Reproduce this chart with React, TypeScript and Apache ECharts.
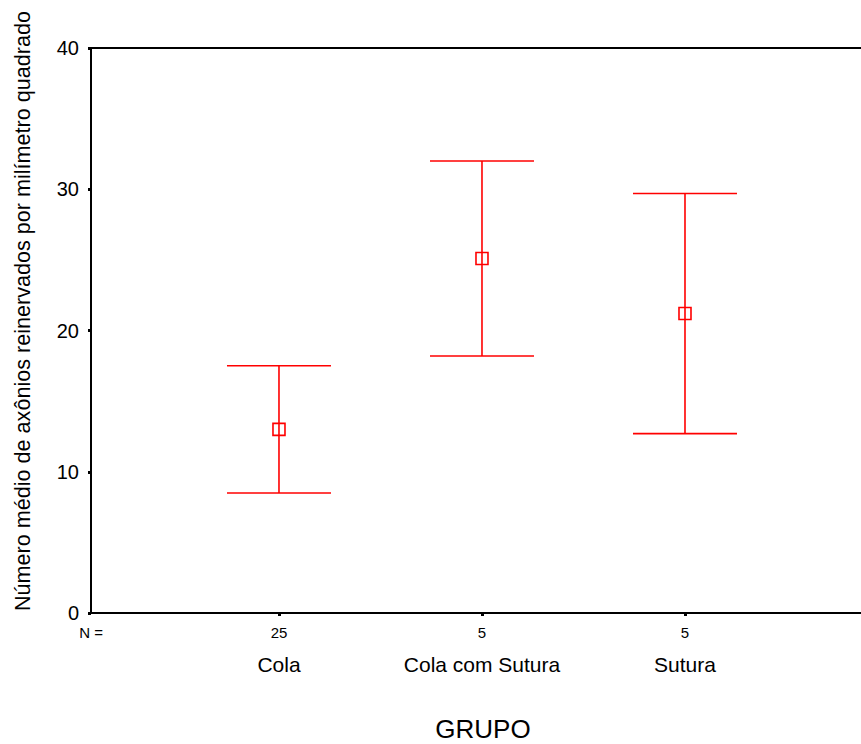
import React, { useEffect, useRef } from "react";
import * as echarts from "echarts";

const categories = ["Cola", "Cola com Sutura", "Sutura"];
const counts = ["25", "5", "5"];
const means = [13.0, 25.1, 21.2];
const lows = [8.5, 18.2, 12.7];
const highs = [17.5, 32.0, 29.7];
const yTicks = [0, 10, 20, 30, 40];
const yTitle = "Número médio de axônios reinervados por milímetro quadrado";
const xTitle = "GRUPO";

const FONT = "'Liberation Sans', Arial, sans-serif";

export default function App() {
  const ref = useRef<HTMLDivElement>(null);
  useEffect(() => {
    if (!ref.current) return;
    const chart = echarts.init(ref.current, null, { renderer: "svg" });
    const positions = categories.map((_, i) => i + 1);
    const data = positions.map((p, i) => [p, lows[i], highs[i], means[i]]);
    const xMin = 0.074;
    const xMax = 3.867;
    chart.setOption({
      animation: false,
      backgroundColor: "#ffffff",
      textStyle: { fontFamily: FONT },
      grid: { left: 91, right: 0, top: 48, bottom: 131, outerBoundsMode: "none", containLabel: false },
      graphic: [
        {
          type: "text",
          x: 22,
          y: 311,
          rotation: Math.PI / 2,
          style: {
            text: yTitle,
            fontSize: 21.6,
            fontFamily: FONT,
            fill: "#000",
            textAlign: "center",
            textVerticalAlign: "middle",
          },
        },
        {
          type: "text",
          x: 483,
          y: 729,
          style: {
            text: xTitle,
            fontSize: 26,
            fontFamily: FONT,
            fill: "#000",
            textAlign: "center",
            textVerticalAlign: "middle",
          },
        },
      ],
      xAxis: [
        {
          type: "value",
          position: "bottom",
          min: xMin,
          max: xMax,
          splitLine: { show: false },
          axisLine: { show: true, onZero: false, lineStyle: { color: "#000", width: 2 } },
          axisTick: {
            show: true,
            customValues: positions,
            length: 3,
            lineStyle: { color: "#000", width: 3 },
          },
          axisLabel: {
            customValues: [xMin, ...positions],
            showMinLabel: true,
            showMaxLabel: true,
            margin: 12,
            fontSize: 15,
            color: "#000",
            fontFamily: FONT,
            formatter: (v: number) => {
              if (v < 0.5) return "N =";
              const idx = Math.round(v) - 1;
              return counts[idx] ?? "";
            },
          },
        },
        {
          type: "value",
          position: "bottom",
          min: xMin,
          max: xMax,
          splitLine: { show: false },
          axisLine: { show: false, onZero: false },
          axisTick: { show: false },
          axisLabel: {
            customValues: positions,
            margin: 41,
            fontSize: 21,
            color: "#000",
            fontFamily: FONT,
            formatter: (v: number) => categories[Math.round(v) - 1] ?? "",
          },
        },
        {
          type: "value",
          position: "top",
          min: xMin,
          max: xMax,
          splitLine: { show: false },
          axisLine: { show: true, onZero: false, lineStyle: { color: "#000", width: 2 } },
          axisTick: { show: false },
          axisLabel: { show: false },
        },
      ],
      yAxis: {
        type: "value",
        min: 0,
        max: 40,
        interval: 10,
        splitLine: { show: false },
        axisLine: { show: true, onZero: false, lineStyle: { color: "#000", width: 2 } },
        axisTick: { show: true, length: 3, lineStyle: { color: "#000", width: 3 } },
        axisLabel: {
          margin: 12,
          fontSize: 20,
          color: "#000",
          fontFamily: FONT,
          formatter: (v: number) => (yTicks.includes(v) ? String(v) : ""),
        },
      },
      series: [
        {
          type: "custom",
          xAxisIndex: 0,
          data,
          renderItem: (params: any, api: any) => {
            const x = api.value(0);
            const lo = api.coord([x, api.value(1)]);
            const hi = api.coord([x, api.value(2)]);
            const mid = api.coord([x, api.value(3)]);
            const half = 52;
            const s = 6;
            const stroke = { stroke: "#ff0000", lineWidth: 1.6, fill: "none" };
            return {
              type: "group",
              children: [
                { type: "line", shape: { x1: hi[0], y1: hi[1], x2: mid[0], y2: mid[1] - s }, style: stroke },
                { type: "line", shape: { x1: mid[0], y1: mid[1] + s, x2: lo[0], y2: lo[1] }, style: stroke },
                { type: "line", shape: { x1: hi[0] - half, y1: hi[1], x2: hi[0] + half, y2: hi[1] }, style: stroke },
                { type: "line", shape: { x1: lo[0] - half, y1: lo[1], x2: lo[0] + half, y2: lo[1] }, style: stroke },
                {
                  type: "rect",
                  shape: { x: mid[0] - s, y: mid[1] - s, width: 2 * s, height: 2 * s },
                  style: { stroke: "#ff0000", lineWidth: 1.6, fill: "#ffffff" },
                },
                { type: "line", shape: { x1: mid[0], y1: mid[1] - s, x2: mid[0], y2: mid[1] + s }, style: stroke },
              ],
            };
          },
        },
      ],
    });
    return () => chart.dispose();
  }, []);
  return (
    <div
      ref={ref}
      style={{ position: "fixed", left: 0, top: 0, width: 861, height: 744 }}
    />
  );
}
